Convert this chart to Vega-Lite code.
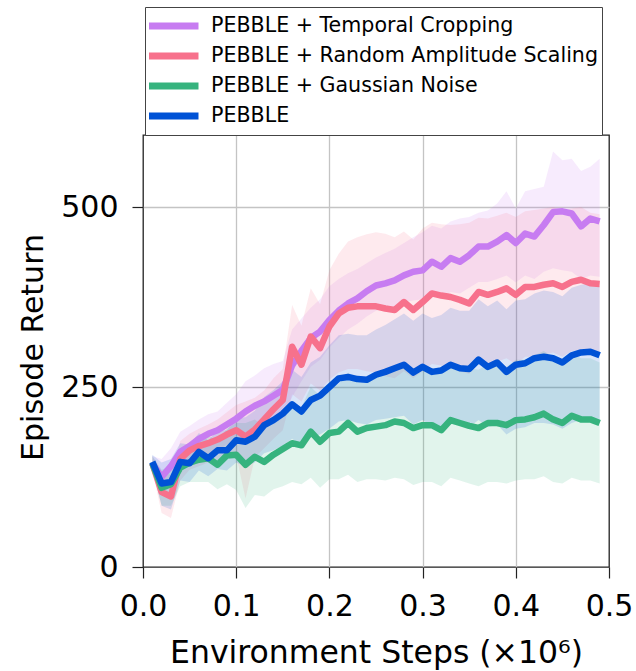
{
"$schema": "https://vega.github.io/schema/vega-lite/v6.json",
"width": 466, "height": 432,
"autosize": {"type": "none"},
"padding": {"left": 143, "top": 135, "right": 27, "bottom": 104},
"background": "white",
"datasets": {
"d": [
{"s":"PEBBLE + Temporal Cropping","x":0.01,"m":144,"lo":134,"hi":154},
{"s":"PEBBLE + Temporal Cropping","x":0.02,"m":125,"lo":100,"hi":150},
{"s":"PEBBLE + Temporal Cropping","x":0.03,"m":140,"lo":112,"hi":165},
{"s":"PEBBLE + Temporal Cropping","x":0.04,"m":160,"lo":135,"hi":188},
{"s":"PEBBLE + Temporal Cropping","x":0.05,"m":168,"lo":142,"hi":196},
{"s":"PEBBLE + Temporal Cropping","x":0.06,"m":178,"lo":152,"hi":205},
{"s":"PEBBLE + Temporal Cropping","x":0.07,"m":185,"lo":158,"hi":212},
{"s":"PEBBLE + Temporal Cropping","x":0.08,"m":190,"lo":162,"hi":216},
{"s":"PEBBLE + Temporal Cropping","x":0.09,"m":198,"lo":170,"hi":228},
{"s":"PEBBLE + Temporal Cropping","x":0.10,"m":206,"lo":176,"hi":240},
{"s":"PEBBLE + Temporal Cropping","x":0.11,"m":216,"lo":184,"hi":258},
{"s":"PEBBLE + Temporal Cropping","x":0.12,"m":224,"lo":190,"hi":266},
{"s":"PEBBLE + Temporal Cropping","x":0.13,"m":230,"lo":196,"hi":276},
{"s":"PEBBLE + Temporal Cropping","x":0.14,"m":238,"lo":202,"hi":282},
{"s":"PEBBLE + Temporal Cropping","x":0.15,"m":246,"lo":208,"hi":286},
{"s":"PEBBLE + Temporal Cropping","x":0.16,"m":280,"lo":236,"hi":330},
{"s":"PEBBLE + Temporal Cropping","x":0.17,"m":300,"lo":258,"hi":345},
{"s":"PEBBLE + Temporal Cropping","x":0.18,"m":318,"lo":278,"hi":360},
{"s":"PEBBLE + Temporal Cropping","x":0.19,"m":327,"lo":288,"hi":372},
{"s":"PEBBLE + Temporal Cropping","x":0.20,"m":343,"lo":305,"hi":390},
{"s":"PEBBLE + Temporal Cropping","x":0.21,"m":356,"lo":318,"hi":400},
{"s":"PEBBLE + Temporal Cropping","x":0.22,"m":366,"lo":330,"hi":408},
{"s":"PEBBLE + Temporal Cropping","x":0.23,"m":373,"lo":338,"hi":414},
{"s":"PEBBLE + Temporal Cropping","x":0.24,"m":383,"lo":348,"hi":422},
{"s":"PEBBLE + Temporal Cropping","x":0.25,"m":391,"lo":356,"hi":430},
{"s":"PEBBLE + Temporal Cropping","x":0.26,"m":394,"lo":360,"hi":436},
{"s":"PEBBLE + Temporal Cropping","x":0.27,"m":398,"lo":362,"hi":442},
{"s":"PEBBLE + Temporal Cropping","x":0.28,"m":405,"lo":368,"hi":450},
{"s":"PEBBLE + Temporal Cropping","x":0.29,"m":410,"lo":370,"hi":458},
{"s":"PEBBLE + Temporal Cropping","x":0.30,"m":412,"lo":372,"hi":465},
{"s":"PEBBLE + Temporal Cropping","x":0.31,"m":424,"lo":380,"hi":474},
{"s":"PEBBLE + Temporal Cropping","x":0.32,"m":417,"lo":372,"hi":470},
{"s":"PEBBLE + Temporal Cropping","x":0.33,"m":429,"lo":382,"hi":480},
{"s":"PEBBLE + Temporal Cropping","x":0.34,"m":424,"lo":380,"hi":484},
{"s":"PEBBLE + Temporal Cropping","x":0.35,"m":433,"lo":388,"hi":486},
{"s":"PEBBLE + Temporal Cropping","x":0.36,"m":445,"lo":396,"hi":492},
{"s":"PEBBLE + Temporal Cropping","x":0.37,"m":445,"lo":396,"hi":495},
{"s":"PEBBLE + Temporal Cropping","x":0.38,"m":452,"lo":400,"hi":505},
{"s":"PEBBLE + Temporal Cropping","x":0.39,"m":461,"lo":405,"hi":522},
{"s":"PEBBLE + Temporal Cropping","x":0.40,"m":450,"lo":395,"hi":498},
{"s":"PEBBLE + Temporal Cropping","x":0.41,"m":463,"lo":405,"hi":522},
{"s":"PEBBLE + Temporal Cropping","x":0.42,"m":459,"lo":400,"hi":525},
{"s":"PEBBLE + Temporal Cropping","x":0.43,"m":475,"lo":410,"hi":528},
{"s":"PEBBLE + Temporal Cropping","x":0.44,"m":493,"lo":415,"hi":577},
{"s":"PEBBLE + Temporal Cropping","x":0.45,"m":494,"lo":412,"hi":565},
{"s":"PEBBLE + Temporal Cropping","x":0.46,"m":491,"lo":410,"hi":567},
{"s":"PEBBLE + Temporal Cropping","x":0.47,"m":473,"lo":400,"hi":550},
{"s":"PEBBLE + Temporal Cropping","x":0.48,"m":484,"lo":405,"hi":556},
{"s":"PEBBLE + Temporal Cropping","x":0.49,"m":480,"lo":403,"hi":567},
{"s":"PEBBLE + Random Amplitude Scaling","x":0.01,"m":144,"lo":134,"hi":154},
{"s":"PEBBLE + Random Amplitude Scaling","x":0.02,"m":104,"lo":75,"hi":130},
{"s":"PEBBLE + Random Amplitude Scaling","x":0.03,"m":98,"lo":68,"hi":128},
{"s":"PEBBLE + Random Amplitude Scaling","x":0.04,"m":150,"lo":120,"hi":175},
{"s":"PEBBLE + Random Amplitude Scaling","x":0.05,"m":162,"lo":135,"hi":185},
{"s":"PEBBLE + Random Amplitude Scaling","x":0.06,"m":168,"lo":140,"hi":192},
{"s":"PEBBLE + Random Amplitude Scaling","x":0.07,"m":172,"lo":145,"hi":198},
{"s":"PEBBLE + Random Amplitude Scaling","x":0.08,"m":177,"lo":148,"hi":205},
{"s":"PEBBLE + Random Amplitude Scaling","x":0.09,"m":184,"lo":152,"hi":215},
{"s":"PEBBLE + Random Amplitude Scaling","x":0.10,"m":190,"lo":155,"hi":225},
{"s":"PEBBLE + Random Amplitude Scaling","x":0.11,"m":181,"lo":95,"hi":230},
{"s":"PEBBLE + Random Amplitude Scaling","x":0.12,"m":191,"lo":152,"hi":235},
{"s":"PEBBLE + Random Amplitude Scaling","x":0.13,"m":205,"lo":165,"hi":245},
{"s":"PEBBLE + Random Amplitude Scaling","x":0.14,"m":219,"lo":178,"hi":262},
{"s":"PEBBLE + Random Amplitude Scaling","x":0.15,"m":232,"lo":190,"hi":275},
{"s":"PEBBLE + Random Amplitude Scaling","x":0.16,"m":306,"lo":240,"hi":364},
{"s":"PEBBLE + Random Amplitude Scaling","x":0.17,"m":281,"lo":230,"hi":335},
{"s":"PEBBLE + Random Amplitude Scaling","x":0.18,"m":320,"lo":255,"hi":387},
{"s":"PEBBLE + Random Amplitude Scaling","x":0.19,"m":304,"lo":245,"hi":365},
{"s":"PEBBLE + Random Amplitude Scaling","x":0.20,"m":334,"lo":260,"hi":412},
{"s":"PEBBLE + Random Amplitude Scaling","x":0.21,"m":352,"lo":270,"hi":435},
{"s":"PEBBLE + Random Amplitude Scaling","x":0.22,"m":360,"lo":275,"hi":452},
{"s":"PEBBLE + Random Amplitude Scaling","x":0.23,"m":362,"lo":275,"hi":458},
{"s":"PEBBLE + Random Amplitude Scaling","x":0.24,"m":362,"lo":272,"hi":462},
{"s":"PEBBLE + Random Amplitude Scaling","x":0.25,"m":362,"lo":270,"hi":465},
{"s":"PEBBLE + Random Amplitude Scaling","x":0.26,"m":359,"lo":265,"hi":463},
{"s":"PEBBLE + Random Amplitude Scaling","x":0.27,"m":357,"lo":262,"hi":458},
{"s":"PEBBLE + Random Amplitude Scaling","x":0.28,"m":368,"lo":272,"hi":466},
{"s":"PEBBLE + Random Amplitude Scaling","x":0.29,"m":357,"lo":262,"hi":455},
{"s":"PEBBLE + Random Amplitude Scaling","x":0.30,"m":368,"lo":272,"hi":470},
{"s":"PEBBLE + Random Amplitude Scaling","x":0.31,"m":380,"lo":282,"hi":478},
{"s":"PEBBLE + Random Amplitude Scaling","x":0.32,"m":377,"lo":280,"hi":476},
{"s":"PEBBLE + Random Amplitude Scaling","x":0.33,"m":375,"lo":278,"hi":475},
{"s":"PEBBLE + Random Amplitude Scaling","x":0.34,"m":371,"lo":272,"hi":476},
{"s":"PEBBLE + Random Amplitude Scaling","x":0.35,"m":366,"lo":268,"hi":478},
{"s":"PEBBLE + Random Amplitude Scaling","x":0.36,"m":382,"lo":285,"hi":485},
{"s":"PEBBLE + Random Amplitude Scaling","x":0.37,"m":378,"lo":282,"hi":484},
{"s":"PEBBLE + Random Amplitude Scaling","x":0.38,"m":382,"lo":285,"hi":488},
{"s":"PEBBLE + Random Amplitude Scaling","x":0.39,"m":387,"lo":290,"hi":492},
{"s":"PEBBLE + Random Amplitude Scaling","x":0.40,"m":378,"lo":282,"hi":486},
{"s":"PEBBLE + Random Amplitude Scaling","x":0.41,"m":389,"lo":292,"hi":494},
{"s":"PEBBLE + Random Amplitude Scaling","x":0.42,"m":389,"lo":292,"hi":496},
{"s":"PEBBLE + Random Amplitude Scaling","x":0.43,"m":392,"lo":295,"hi":498},
{"s":"PEBBLE + Random Amplitude Scaling","x":0.44,"m":394,"lo":298,"hi":500},
{"s":"PEBBLE + Random Amplitude Scaling","x":0.45,"m":389,"lo":292,"hi":494},
{"s":"PEBBLE + Random Amplitude Scaling","x":0.46,"m":396,"lo":300,"hi":498},
{"s":"PEBBLE + Random Amplitude Scaling","x":0.47,"m":399,"lo":302,"hi":500},
{"s":"PEBBLE + Random Amplitude Scaling","x":0.48,"m":394,"lo":298,"hi":492},
{"s":"PEBBLE + Random Amplitude Scaling","x":0.49,"m":393,"lo":298,"hi":490},
{"s":"PEBBLE + Gaussian Noise","x":0.01,"m":144,"lo":134,"hi":154},
{"s":"PEBBLE + Gaussian Noise","x":0.02,"m":110,"lo":85,"hi":135},
{"s":"PEBBLE + Gaussian Noise","x":0.03,"m":115,"lo":85,"hi":140},
{"s":"PEBBLE + Gaussian Noise","x":0.04,"m":138,"lo":112,"hi":160},
{"s":"PEBBLE + Gaussian Noise","x":0.05,"m":145,"lo":118,"hi":170},
{"s":"PEBBLE + Gaussian Noise","x":0.06,"m":149,"lo":118,"hi":178},
{"s":"PEBBLE + Gaussian Noise","x":0.07,"m":151,"lo":118,"hi":182},
{"s":"PEBBLE + Gaussian Noise","x":0.08,"m":142,"lo":108,"hi":176},
{"s":"PEBBLE + Gaussian Noise","x":0.09,"m":155,"lo":115,"hi":192},
{"s":"PEBBLE + Gaussian Noise","x":0.10,"m":156,"lo":107,"hi":200},
{"s":"PEBBLE + Gaussian Noise","x":0.11,"m":142,"lo":82,"hi":200},
{"s":"PEBBLE + Gaussian Noise","x":0.12,"m":153,"lo":100,"hi":205},
{"s":"PEBBLE + Gaussian Noise","x":0.13,"m":146,"lo":98,"hi":195},
{"s":"PEBBLE + Gaussian Noise","x":0.14,"m":156,"lo":108,"hi":205},
{"s":"PEBBLE + Gaussian Noise","x":0.15,"m":164,"lo":112,"hi":215},
{"s":"PEBBLE + Gaussian Noise","x":0.16,"m":172,"lo":118,"hi":226},
{"s":"PEBBLE + Gaussian Noise","x":0.17,"m":169,"lo":115,"hi":222},
{"s":"PEBBLE + Gaussian Noise","x":0.18,"m":188,"lo":124,"hi":250},
{"s":"PEBBLE + Gaussian Noise","x":0.19,"m":174,"lo":110,"hi":238},
{"s":"PEBBLE + Gaussian Noise","x":0.20,"m":186,"lo":122,"hi":250},
{"s":"PEBBLE + Gaussian Noise","x":0.21,"m":188,"lo":122,"hi":254},
{"s":"PEBBLE + Gaussian Noise","x":0.22,"m":200,"lo":128,"hi":270},
{"s":"PEBBLE + Gaussian Noise","x":0.23,"m":188,"lo":118,"hi":258},
{"s":"PEBBLE + Gaussian Noise","x":0.24,"m":193,"lo":122,"hi":264},
{"s":"PEBBLE + Gaussian Noise","x":0.25,"m":195,"lo":122,"hi":268},
{"s":"PEBBLE + Gaussian Noise","x":0.26,"m":197,"lo":120,"hi":274},
{"s":"PEBBLE + Gaussian Noise","x":0.27,"m":202,"lo":124,"hi":280},
{"s":"PEBBLE + Gaussian Noise","x":0.28,"m":200,"lo":122,"hi":278},
{"s":"PEBBLE + Gaussian Noise","x":0.29,"m":193,"lo":114,"hi":272},
{"s":"PEBBLE + Gaussian Noise","x":0.30,"m":197,"lo":118,"hi":276},
{"s":"PEBBLE + Gaussian Noise","x":0.31,"m":197,"lo":118,"hi":276},
{"s":"PEBBLE + Gaussian Noise","x":0.32,"m":190,"lo":112,"hi":268},
{"s":"PEBBLE + Gaussian Noise","x":0.33,"m":204,"lo":124,"hi":284},
{"s":"PEBBLE + Gaussian Noise","x":0.34,"m":200,"lo":120,"hi":280},
{"s":"PEBBLE + Gaussian Noise","x":0.35,"m":196,"lo":116,"hi":276},
{"s":"PEBBLE + Gaussian Noise","x":0.36,"m":193,"lo":112,"hi":274},
{"s":"PEBBLE + Gaussian Noise","x":0.37,"m":200,"lo":118,"hi":282},
{"s":"PEBBLE + Gaussian Noise","x":0.38,"m":200,"lo":118,"hi":282},
{"s":"PEBBLE + Gaussian Noise","x":0.39,"m":197,"lo":116,"hi":278},
{"s":"PEBBLE + Gaussian Noise","x":0.40,"m":204,"lo":120,"hi":288},
{"s":"PEBBLE + Gaussian Noise","x":0.41,"m":205,"lo":122,"hi":288},
{"s":"PEBBLE + Gaussian Noise","x":0.42,"m":208,"lo":122,"hi":294},
{"s":"PEBBLE + Gaussian Noise","x":0.43,"m":213,"lo":126,"hi":300},
{"s":"PEBBLE + Gaussian Noise","x":0.44,"m":205,"lo":118,"hi":292},
{"s":"PEBBLE + Gaussian Noise","x":0.45,"m":200,"lo":116,"hi":284},
{"s":"PEBBLE + Gaussian Noise","x":0.46,"m":210,"lo":124,"hi":296},
{"s":"PEBBLE + Gaussian Noise","x":0.47,"m":205,"lo":120,"hi":290},
{"s":"PEBBLE + Gaussian Noise","x":0.48,"m":205,"lo":120,"hi":290},
{"s":"PEBBLE + Gaussian Noise","x":0.49,"m":200,"lo":116,"hi":284},
{"s":"PEBBLE","x":0.01,"m":146,"lo":136,"hi":156},
{"s":"PEBBLE","x":0.02,"m":116,"lo":85,"hi":145},
{"s":"PEBBLE","x":0.03,"m":118,"lo":80,"hi":150},
{"s":"PEBBLE","x":0.04,"m":146,"lo":120,"hi":172},
{"s":"PEBBLE","x":0.05,"m":144,"lo":118,"hi":170},
{"s":"PEBBLE","x":0.06,"m":160,"lo":134,"hi":186},
{"s":"PEBBLE","x":0.07,"m":151,"lo":126,"hi":176},
{"s":"PEBBLE","x":0.08,"m":162,"lo":136,"hi":190},
{"s":"PEBBLE","x":0.09,"m":162,"lo":134,"hi":190},
{"s":"PEBBLE","x":0.10,"m":176,"lo":145,"hi":207},
{"s":"PEBBLE","x":0.11,"m":174,"lo":140,"hi":208},
{"s":"PEBBLE","x":0.12,"m":181,"lo":145,"hi":217},
{"s":"PEBBLE","x":0.13,"m":197,"lo":158,"hi":236},
{"s":"PEBBLE","x":0.14,"m":204,"lo":162,"hi":246},
{"s":"PEBBLE","x":0.15,"m":213,"lo":168,"hi":258},
{"s":"PEBBLE","x":0.16,"m":226,"lo":178,"hi":274},
{"s":"PEBBLE","x":0.17,"m":216,"lo":168,"hi":264},
{"s":"PEBBLE","x":0.18,"m":232,"lo":180,"hi":284},
{"s":"PEBBLE","x":0.19,"m":238,"lo":184,"hi":292},
{"s":"PEBBLE","x":0.20,"m":250,"lo":192,"hi":308},
{"s":"PEBBLE","x":0.21,"m":262,"lo":202,"hi":322},
{"s":"PEBBLE","x":0.22,"m":264,"lo":204,"hi":324},
{"s":"PEBBLE","x":0.23,"m":261,"lo":200,"hi":322},
{"s":"PEBBLE","x":0.24,"m":260,"lo":198,"hi":322},
{"s":"PEBBLE","x":0.25,"m":267,"lo":204,"hi":330},
{"s":"PEBBLE","x":0.26,"m":271,"lo":206,"hi":336},
{"s":"PEBBLE","x":0.27,"m":276,"lo":208,"hi":344},
{"s":"PEBBLE","x":0.28,"m":281,"lo":210,"hi":352},
{"s":"PEBBLE","x":0.29,"m":270,"lo":198,"hi":342},
{"s":"PEBBLE","x":0.30,"m":278,"lo":204,"hi":352},
{"s":"PEBBLE","x":0.31,"m":271,"lo":196,"hi":346},
{"s":"PEBBLE","x":0.32,"m":273,"lo":196,"hi":350},
{"s":"PEBBLE","x":0.33,"m":281,"lo":202,"hi":360},
{"s":"PEBBLE","x":0.34,"m":276,"lo":196,"hi":356},
{"s":"PEBBLE","x":0.35,"m":275,"lo":194,"hi":356},
{"s":"PEBBLE","x":0.36,"m":288,"lo":204,"hi":372},
{"s":"PEBBLE","x":0.37,"m":278,"lo":194,"hi":362},
{"s":"PEBBLE","x":0.38,"m":284,"lo":198,"hi":370},
{"s":"PEBBLE","x":0.39,"m":271,"lo":184,"hi":358},
{"s":"PEBBLE","x":0.40,"m":281,"lo":192,"hi":370},
{"s":"PEBBLE","x":0.41,"m":283,"lo":194,"hi":372},
{"s":"PEBBLE","x":0.42,"m":290,"lo":200,"hi":380},
{"s":"PEBBLE","x":0.43,"m":292,"lo":200,"hi":384},
{"s":"PEBBLE","x":0.44,"m":290,"lo":198,"hi":382},
{"s":"PEBBLE","x":0.45,"m":284,"lo":192,"hi":376},
{"s":"PEBBLE","x":0.46,"m":294,"lo":200,"hi":388},
{"s":"PEBBLE","x":0.47,"m":298,"lo":204,"hi":392},
{"s":"PEBBLE","x":0.48,"m":299,"lo":204,"hi":394},
{"s":"PEBBLE","x":0.49,"m":294,"lo":200,"hi":390}
]
},
"data": {"name": "d"},
"encoding": {
"x": {"field": "x", "type": "quantitative", "scale": {"domain": [0, 0.5], "nice": false},
  "axis": {"values": [0, 0.1, 0.2, 0.3, 0.4, 0.5], "format": ".1f", "title": "Environment Steps (×10⁶)", "ticks": true,
    "labelPadding": 37, "labelBaseline": "alphabetic", "titleX": 233, "titleY": 95, "titleBaseline": "alphabetic", "titleAlign": "center", "titleFontSize": 31.5,
    "gridColor": {"condition": {"test": "datum.value < 0.001 || datum.value > 0.499", "value": "transparent"}, "value": "#c4c4c4"}}},
"color": {"field": "s", "type": "nominal",
  "scale": {"domain": ["PEBBLE + Temporal Cropping", "PEBBLE + Random Amplitude Scaling", "PEBBLE + Gaussian Noise", "PEBBLE"],
            "range": ["#c77cf1", "#f7718c", "#36b37e", "#0052d6"]},
  "legend": {"orient": "none", "legendX": 2, "legendY": -128, "title": null, "symbolType": "stroke", "symbolSize": 2600,
    "symbolStrokeWidth": 7, "symbolOpacity": 1, "labelFontSize": 20.6, "labelFont": "DejaVu Sans", "labelColor": "#000", "clipHeight": 30, "rowPadding": 0,
    "padding": 4, "strokeColor": "#444", "fillColor": "#ffffff", "labelOffset": 9, "symbolOffset": -5, "labelLimit": 600, "cornerRadius": 0}}
},
"layer": [
{
"mark": {"type": "area", "opacity": 0.15},
"encoding": {
"y": {"field": "lo", "type": "quantitative", "scale": {"domain": [0, 600], "nice": false},
  "axis": {"values": [0, 250, 500], "title": "Episode Return", "ticks": true, "labelPadding": 14, "labelBaseline": "middle",
    "titleX": -101, "titleY": 212, "titleAngle": 270, "titleBaseline": "alphabetic", "titleAlign": "center",
    "gridColor": {"condition": {"test": "datum.value < 1", "value": "transparent"}, "value": "#c4c4c4"}}},
"y2": {"field": "hi"}
}
},
{
"mark": {"type": "line", "strokeWidth": 6.5, "strokeJoin": "round", "strokeCap": "butt"},
"encoding": {
"y": {"field": "m", "type": "quantitative", "scale": {"domain": [0, 600], "nice": false}, "title": "Episode Return"}
}
}
],
"config": {
"view": {"stroke": "#222", "strokeWidth": 1.3},
"font": "DejaVu Sans",
"axis": {"labelFont": "DejaVu Sans", "titleFont": "DejaVu Sans", "labelFontSize": 30, "titleFontSize": 30,
  "labelColor": "#000", "titleColor": "#000", "titleFontWeight": "normal", "tickColor": "#222", "tickSize": 11, "tickWidth": 1.2,
  "domain": false, "gridWidth": 1.3, "labelFlush": false, "labelOverlap": false, "labelBound": false}
}
}
